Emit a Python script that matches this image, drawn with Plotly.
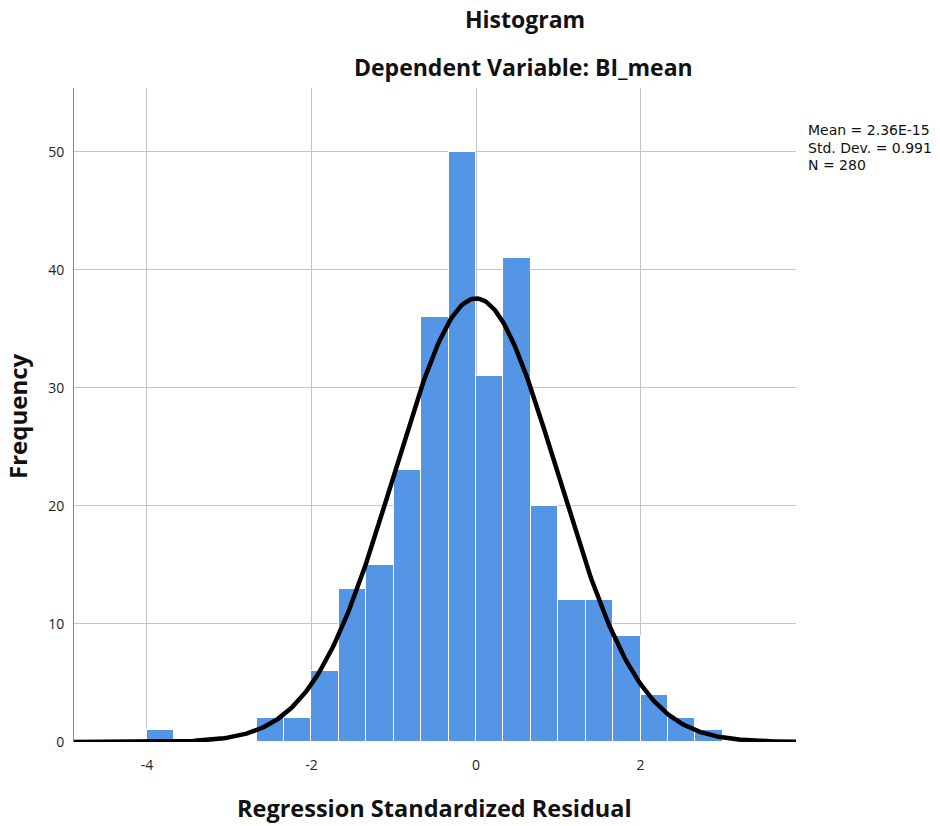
import numpy as np
import plotly.graph_objects as go

# Histogram data (bin width 1/3)
bin_left_edges = [-4.0, -8/3, -7/3, -2.0, -5/3, -4/3, -1.0, -2/3, -1/3, 0.0, 1/3, 2/3, 1.0, 4/3, 5/3, 2.0, 7/3, 8/3]
frequencies = [1, 2, 2, 6, 13, 15, 23, 36, 50, 31, 41, 20, 12, 12, 9, 4, 2, 1]
bin_width = 1/3

# Summary statistics shown in the chart
stat_mean = 2.36e-15
stat_sd = 0.991
stat_n = 280
stat_lines = ["Mean = 2.36E-15", f"Std. Dev. = {stat_sd}", f"N = {stat_n}"]

x_ticks = [-4, -2, 0, 2]
y_ticks = [0, 10, 20, 30, 40, 50]

centers = [e + bin_width / 2 for e in bin_left_edges]

# Normal curve scaled to frequency
xs = np.linspace(-4.9, 3.9, 400)
ys = stat_n * bin_width * np.exp(-0.5 * ((xs - stat_mean) / stat_sd) ** 2) / (stat_sd * np.sqrt(2 * np.pi))

W, H = 940, 826
l, r, t, b = 74, 144, 88, 84
pw, ph = W - l - r, H - t - b
def px(xp): return (xp - l) / pw
def py(yp): return (H - b - yp) / ph

fig = go.Figure()
fig.add_trace(go.Bar(
    x=centers, y=frequencies, width=bin_width,
    marker=dict(color="#5595E5", line=dict(color="white", width=1)),
    showlegend=False, hoverinfo="x+y"
))
fig.add_trace(go.Scatter(
    x=xs, y=ys, mode="lines", line=dict(color="black", width=4.5),
    showlegend=False, hoverinfo="skip"
))

font_main = "Open Sans"
fig.update_layout(
    width=W, height=H,
    margin=dict(l=l, r=r, t=t, b=b),
    plot_bgcolor="white", paper_bgcolor="white",
    bargap=0,
    xaxis=dict(range=[-4.887, 3.89], tickvals=x_ticks, ticktext=[str(v) for v in x_ticks],
               showgrid=True, gridcolor="#c4c4c4", gridwidth=1, zeroline=False,
               showline=False, ticks="", ticklabelstandoff=13,
               tickfont=dict(family=font_main, size=14, color="#222")),
    yaxis=dict(range=[0, 55.4], tickvals=y_ticks, showgrid=True, gridcolor="#c4c4c4", gridwidth=1,
               zeroline=False, showline=True, linecolor="#888", linewidth=1, ticks="",
               ticklabelstandoff=6,
               tickfont=dict(family=font_main, size=14, color="#222")),
)

fig.add_annotation(text="<b>Histogram</b>", x=px(525), y=py(19), xref="paper", yref="paper",
                   showarrow=False, xanchor="center", yanchor="middle",
                   font=dict(family=font_main, size=23, color="#111"))
fig.add_annotation(text="<b>Dependent Variable: BI_mean</b>", x=px(523), y=py(67), xref="paper", yref="paper",
                   showarrow=False, xanchor="center", yanchor="middle",
                   font=dict(family=font_main, size=23, color="#111"))
fig.add_annotation(text="<b>Regression Standardized Residual</b>", x=px(434), y=py(808), xref="paper", yref="paper",
                   showarrow=False, xanchor="center", yanchor="middle",
                   font=dict(family=font_main, size=23.5, color="#111"))
fig.add_annotation(text="<b>Frequency</b>", x=px(18), y=py(416), xref="paper", yref="paper",
                   showarrow=False, xanchor="center", yanchor="middle", textangle=-90,
                   font=dict(family=font_main, size=24, color="#111"))
for i, line in enumerate(stat_lines):
    fig.add_annotation(text=line, x=px(806), y=py(130 + 17.5 * i), xref="paper", yref="paper",
                       showarrow=False, xanchor="left", yanchor="middle", align="left",
                       font=dict(family="DejaVu Sans", size=14, color="#111"))

fig.write_html("out.html", config={"displayModeBar": False},
               post_script="document.body.style.margin='0';")
